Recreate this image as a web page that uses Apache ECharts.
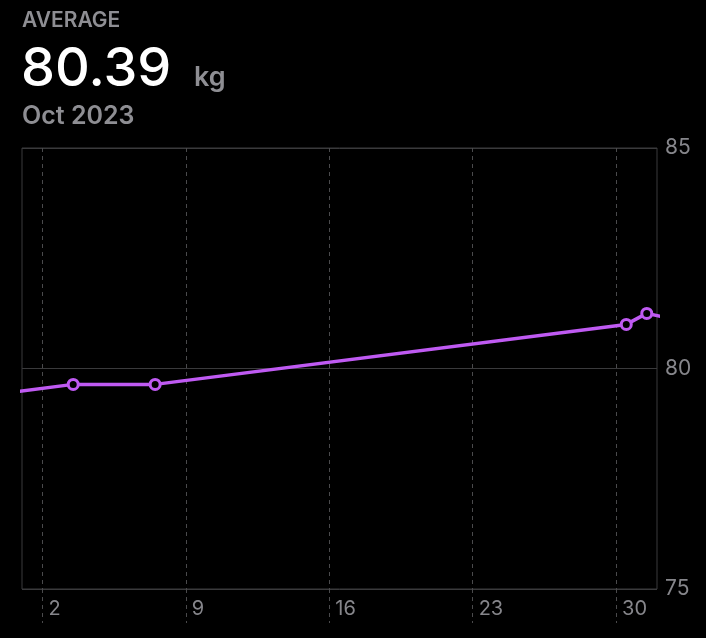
<!DOCTYPE html>
<html>
<head>
<meta charset="utf-8">
<style>
  html, body { margin: 0; padding: 0; background: #000; }
  #chart { width: 706px; height: 638px; }
</style>
<script src="https://cdn.jsdelivr.net/npm/echarts@6/dist/echarts.min.js"></script>
</head>
<body>
<div id="chart"></div>
<script>
// ---- data ----
const headerLabel = 'AVERAGE';
const averageText = '80.39';
const unitText = 'kg';
const periodText = 'Oct 2023';
// day of month (noon = .5) and weight in kg; first/last points lie outside the month
const days    = [-1.5, 3.5, 7.5, 30.5, 31.5, 32.5];
const weights = [79.34, 79.64, 79.64, 81.00, 81.25, 81.15];
const xTickDays = [2, 9, 16, 23, 30];
const yTicks = [75, 80, 85];

const dayMin = 1, dayMax = 32;

const seriesData = days.map((d, i) => {
  const item = { value: [d, weights[i]] };
  if (d < dayMin || d > dayMax) item.symbol = 'none';
  return item;
});

const purple = '#bf5af2';
const grey = '#8e8e93';
const axisGrey = '#86868b';

const chart = echarts.init(document.getElementById('chart'));
chart.setOption({
  backgroundColor: '#000',
  animation: false,
  title: [
    { text: headerLabel, left: 22, top: 10, padding: 0,
      textStyle: { fontFamily: 'Inter', fontSize: 21, fontWeight: 600, color: grey } },
    { text: averageText, left: 21, top: 43, padding: 0,
      textStyle: { fontFamily: 'Inter', fontSize: 54, fontWeight: 500, color: '#fff' } },
    { text: unitText, left: 194, top: 64, padding: 0,
      textStyle: { fontFamily: 'Inter', fontSize: 27, fontWeight: 600, color: grey } },
    { text: periodText, left: 22, top: 104, padding: 0,
      textStyle: { fontFamily: 'Inter', fontSize: 25, fontWeight: 600, color: grey } }
  ],
  grid: {
    left: 22, right: 49, top: 148, bottom: 49,
    show: true, borderColor: '#3a3a3c', borderWidth: 1, backgroundColor: 'transparent'
  },
  xAxis: {
    type: 'value', min: dayMin, max: dayMax,
    axisLine: { show: false },
    axisTick: {
      show: true, customValues: xTickDays, length: 34, inside: false,
      lineStyle: { color: '#4a4a4c', type: [4, 4], width: 1 }
    },
    axisLabel: {
      customValues: xTickDays, align: 'left', margin: 10,
      padding: [0, 0, 0, 6],
      fontFamily: 'Inter', fontSize: 20, color: axisGrey
    },
    splitLine: { show: true, lineStyle: { color: '#4a4a4c', type: [4, 4], width: 1 } }
  },
  yAxis: {
    type: 'value', position: 'right', min: 75, max: 85, interval: 5,
    axisLine: { show: false }, axisTick: { show: false },
    axisLabel: { margin: 8, fontFamily: 'Inter', fontSize: 21, color: axisGrey },
    splitLine: { show: true, lineStyle: { color: '#3a3a3c', width: 1 } }
  },
  series: [{
    type: 'line',
    data: seriesData,
    clip: true,
    symbol: 'circle',
    symbolSize: 10,
    showAllSymbol: true,
    lineStyle: { color: purple, width: 3.5 },
    itemStyle: { color: '#000', borderColor: purple, borderWidth: 3 },
    z: 5
  }]
});
</script>
</body>
</html>
